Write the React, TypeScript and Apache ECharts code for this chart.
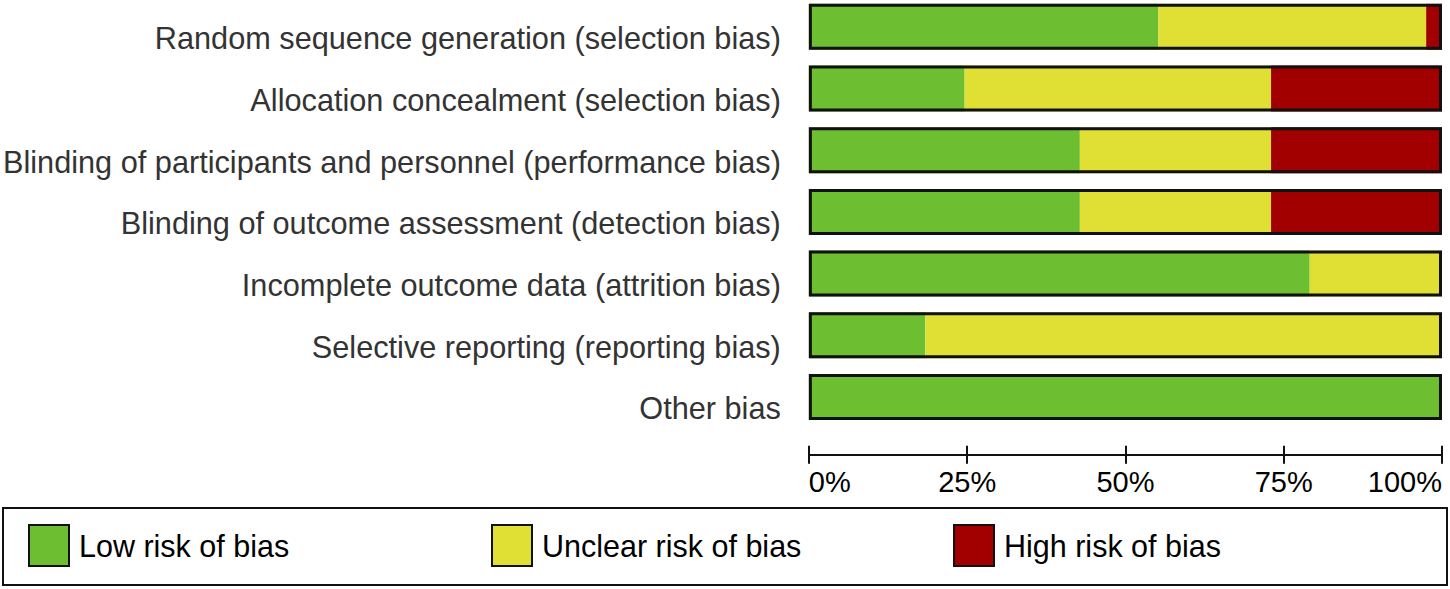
import React, { useEffect, useRef } from "react";
import * as echarts from "echarts";

const categories = [
  "Random sequence generation (selection bias)",
  "Allocation concealment (selection bias)",
  "Blinding of participants and personnel (performance bias)",
  "Blinding of outcome assessment (detection bias)",
  "Incomplete outcome data (attrition bias)",
  "Selective reporting (reporting bias)",
  "Other bias",
];
const lowRisk = [55.2, 24.6, 42.8, 42.8, 79.1, 18.4, 100];
const unclearRisk = [42.3, 48.4, 30.2, 30.2, 20.9, 81.6, 0];
const highRisk = [2.5, 27.0, 27.0, 27.0, 0, 0, 0];
const outlineTotal = [100, 100, 100, 100, 100, 100, 100];
const tickValues = [0, 25, 50, 75, 100];
const seriesNames = ["Low risk of bias", "Unclear risk of bias", "High risk of bias"];
const seriesColors = ["#6dbf31", "#e0e034", "#a20000"];

export default function App() {
  const ref = useRef<HTMLDivElement>(null);
  useEffect(() => {
    const chart = echarts.init(ref.current!, null, { renderer: "svg" });
    const barW = 46;
    const mkAxis = (inside: boolean, showLabel: boolean) => ({
      type: "value",
      min: 0,
      max: 100,
      interval: 25,
      position: "bottom",
      offset: 27,
      splitLine: { show: false },
      axisLine: { show: true, lineStyle: { color: "#111", width: 2 } },
      axisTick: { show: true, inside, length: 9, lineStyle: { color: "#111", width: 2 } },
      axisLabel: {
        show: showLabel,
        color: "#000",
        fontFamily: "Liberation Sans, Arial, sans-serif",
        fontSize: 29,
        margin: 13,
        formatter: (v: number) => (tickValues.includes(v) ? v + "%" : ""),
        alignMinLabel: "left",
        alignMaxLabel: "right",
      },
    });
    const legendCommon = {
      top: 523,
      itemWidth: 40,
      itemHeight: 41,
      icon: "rect",
      orient: "horizontal",
      selectedMode: false,
      textStyle: {
        color: "#000",
        fontFamily: "Liberation Sans, Arial, sans-serif",
        fontSize: 30.5,
        padding: [0, 0, 0, 5],
      },
      itemStyle: { borderColor: "#111", borderWidth: 2 },
    };
    chart.setOption({
      animation: false,
      grid: { left: 806, right: 8, top: 0, bottom: 161.2, containLabel: false },
      legend: [
        { ...legendCommon, left: 23, data: [seriesNames[0]] },
        { ...legendCommon, left: 486, data: [seriesNames[1]] },
        { ...legendCommon, left: 948, data: [seriesNames[2]] },
      ],
      graphic: [
        {
          type: "rect",
          shape: { x: 3, y: 512, width: 1444, height: 77 },
          style: { fill: "none", stroke: "#111", lineWidth: 2 },
          silent: true,
          z: 0,
        },
      ],
      xAxis: [mkAxis(false, true), mkAxis(true, false)],
      yAxis: {
        type: "category",
        data: categories,
        inverse: true,
        axisLine: { show: false },
        axisTick: { show: false },
        splitLine: { show: false },
        axisLabel: {
          color: "#333",
          fontFamily: "Liberation Sans, Arial, sans-serif",
          fontSize: 30.7,
          margin: 28,
          verticalAlign: "top",
          lineHeight: 24,
        },
      },
      series: [
        ...[lowRisk, unclearRisk, highRisk].map((d, i) => ({
          name: seriesNames[i],
          type: "bar",
          stack: "risk",
          barWidth: barW,
          barGap: "-100%",
          data: d,
          itemStyle: { color: seriesColors[i] },
          silent: true,
        })),
        {
          name: "outline",
          type: "bar",
          barWidth: barW,
          barGap: "-100%",
          data: outlineTotal,
          itemStyle: { color: "transparent", borderColor: "#111", borderWidth: 3 },
          silent: true,
          z: 3,
        },
      ],
    });
    return () => chart.dispose();
  }, []);
  return (
    <div
      ref={ref}
      style={{ position: "fixed", left: 0, top: -4, width: 1450, height: 593, background: "#fff" }}
    />
  );
}
